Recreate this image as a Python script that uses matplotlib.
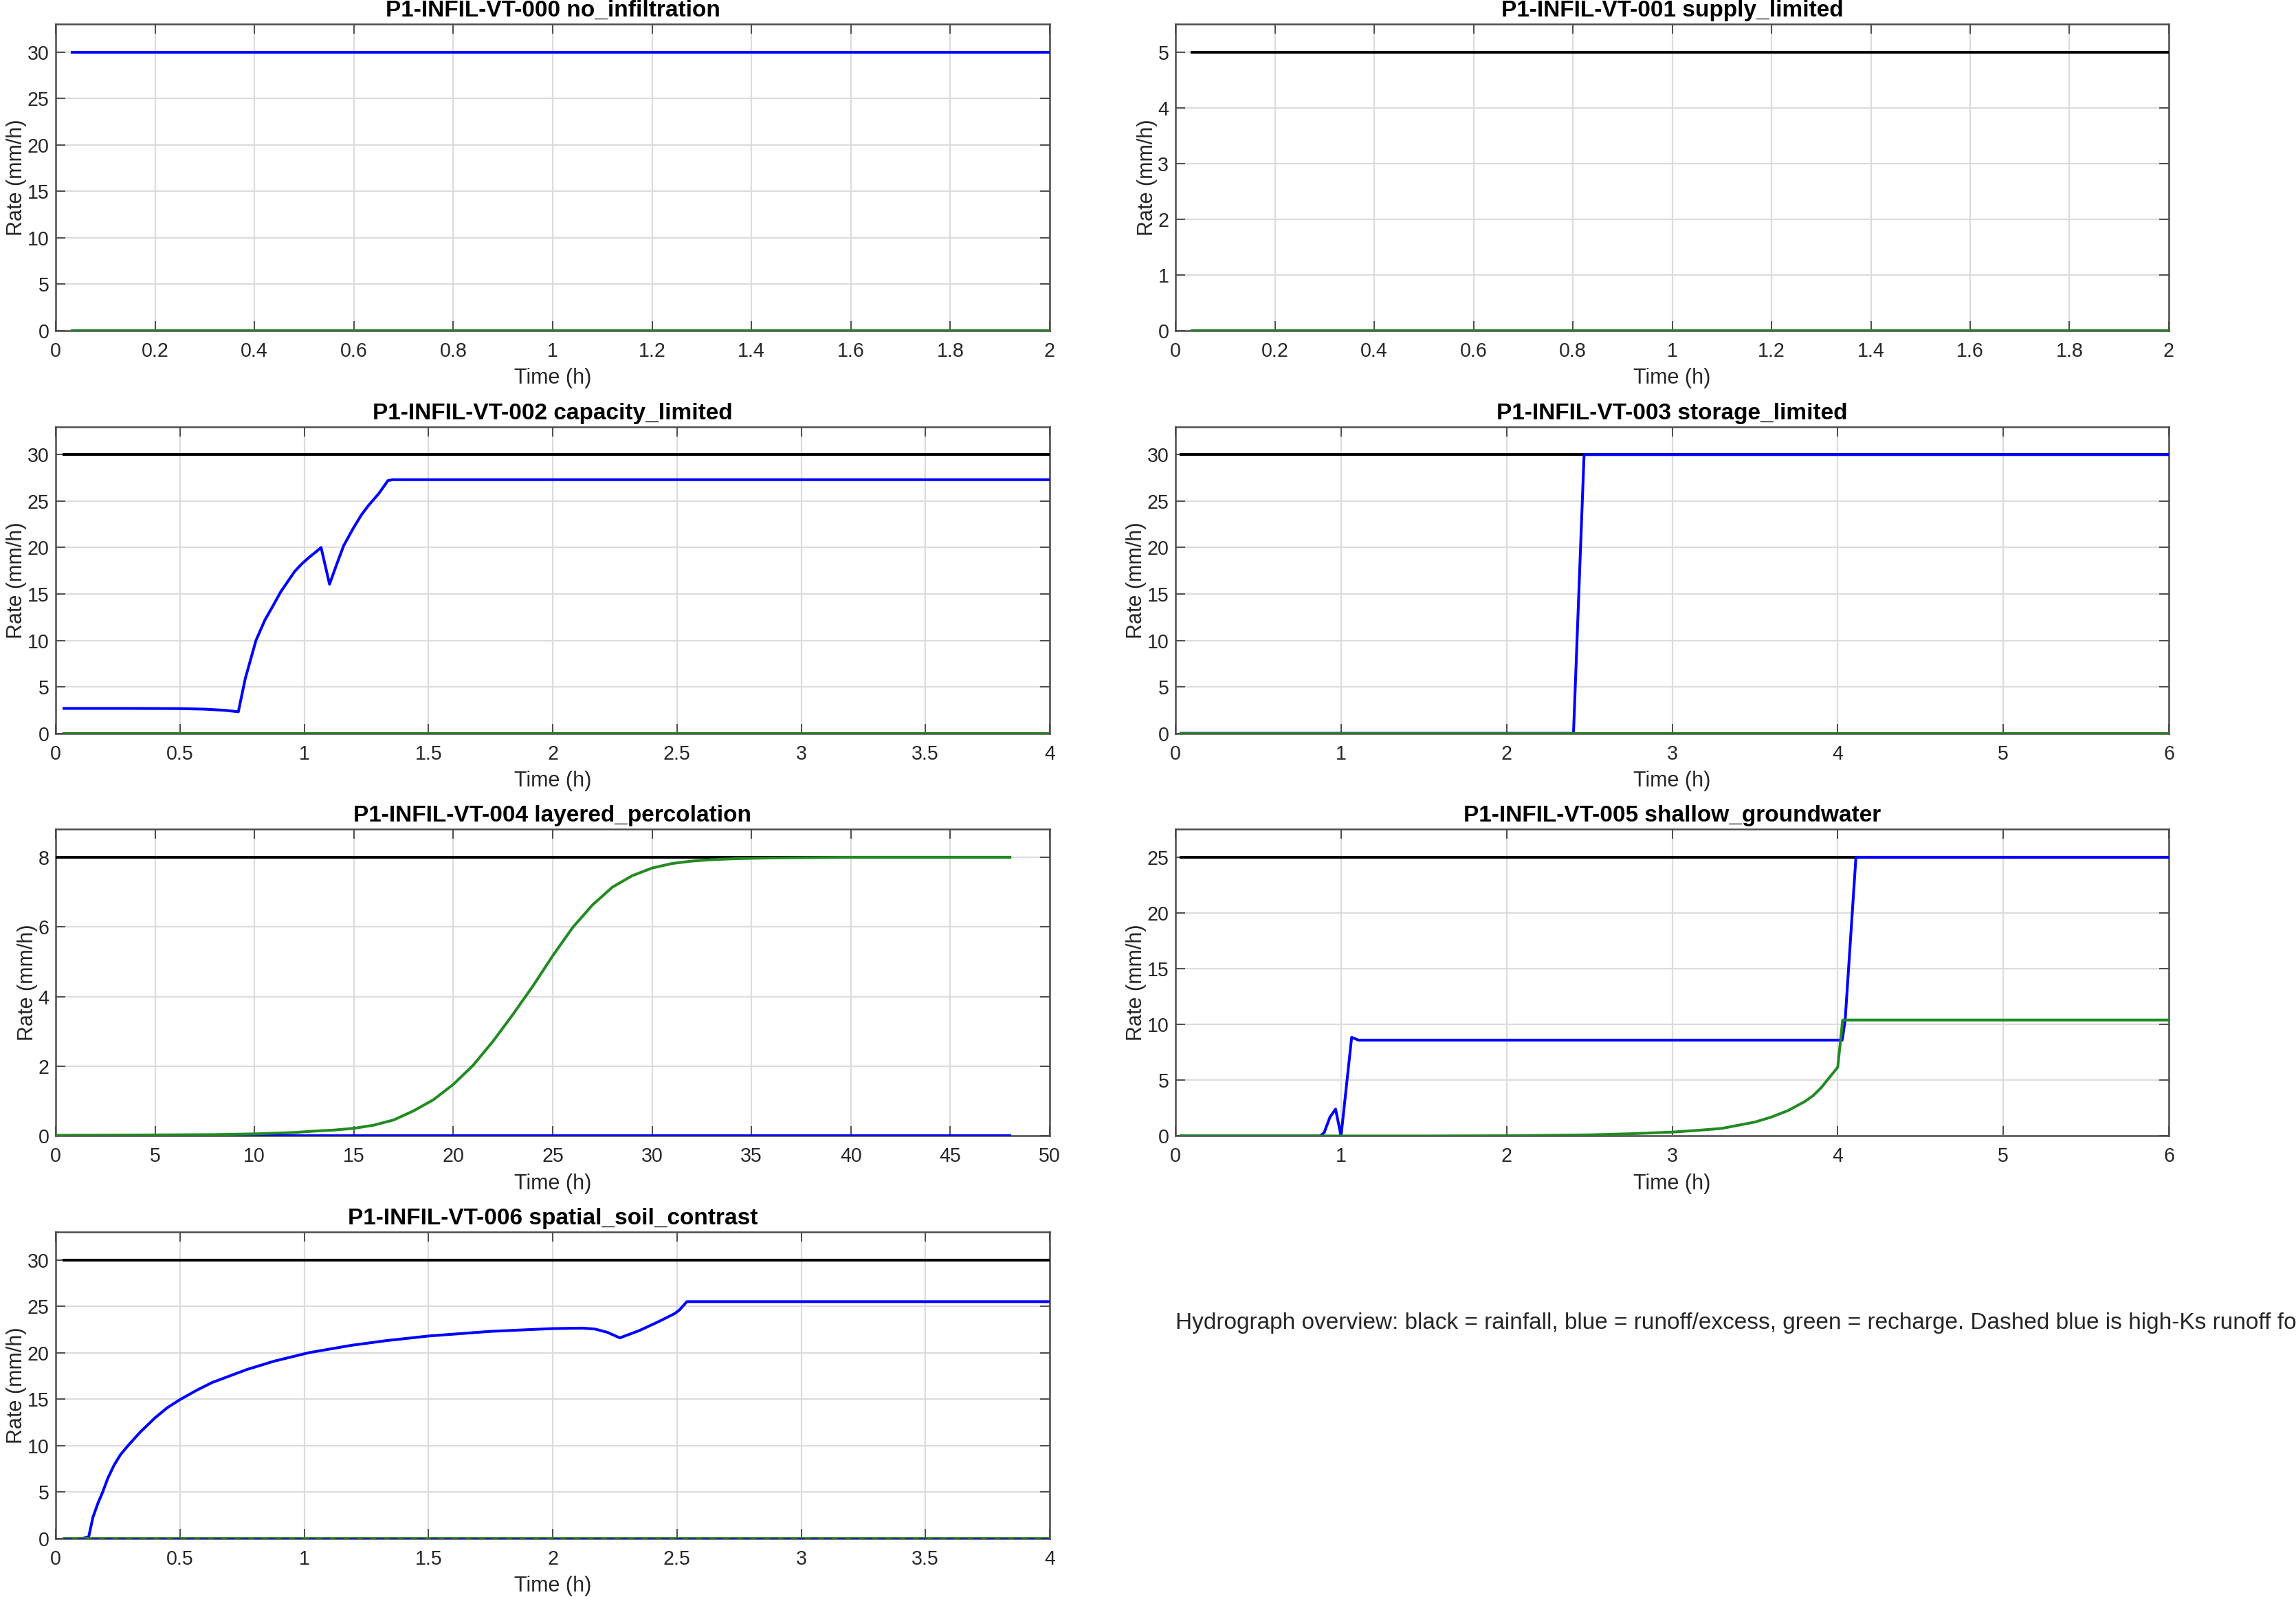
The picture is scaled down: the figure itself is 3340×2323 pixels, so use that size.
import matplotlib
matplotlib.use("Agg")
import matplotlib.pyplot as plt
from matplotlib.ticker import FuncFormatter
import numpy as np

plt.rcParams['font.family'] = ['Liberation Sans', 'DejaVu Sans']

# ---------------- data ----------------
titles = ["P1-INFIL-VT-000 no_infiltration",
          "P1-INFIL-VT-001 supply_limited",
          "P1-INFIL-VT-002 capacity_limited",
          "P1-INFIL-VT-003 storage_limited",
          "P1-INFIL-VT-004 layered_percolation",
          "P1-INFIL-VT-005 shallow_groundwater",
          "P1-INFIL-VT-006 spatial_soil_contrast"]

# 000 no_infiltration
t000 = [0.0333, 2.0]
rain000 = [30, 30]
runoff000 = [30, 30]
rech000 = [0, 0]

# 001 supply_limited
t001 = [0.0333, 2.0]
rain001 = [5, 5]
runoff001 = [0, 0]
rech001 = [0, 0]

# 002 capacity_limited
t002_rain = [0.0333, 4.0]
rain002 = [30, 30]
t002_runoff = [0.0333, 0.30, 0.50, 0.60, 0.68, 0.735, 0.763, 0.806, 0.842, 0.876,
               0.905, 0.933, 0.961, 0.989, 1.018, 1.046, 1.068, 1.102, 1.131,
               1.159, 1.196, 1.23, 1.258, 1.30, 1.337, 1.357, 4.0]
runoff002 = [2.68, 2.68, 2.66, 2.60, 2.48, 2.32, 5.9, 10.0, 12.2, 13.8,
             15.2, 16.3, 17.4, 18.2, 18.9, 19.5, 20.0, 16.05, 18.2,
             20.2, 22.0, 23.5, 24.5, 25.8, 27.2, 27.3, 27.3]
t002_rech = [0.0333, 4.0]
rech002 = [0, 0]

# 003 storage_limited
t003_rain = [0.0333, 6.0]
rain003 = [30, 30]
t003_runoff = [0.0333, 2.404, 2.468, 6.0]
runoff003 = [0, 0, 30, 30]
t003_rech = [0.0333, 6.0]
rech003 = [0, 0]

# 004 layered_percolation
t004_rain = [0.0, 48.0]
rain004 = [8, 8]
t004_runoff = [0.0, 48.0]
runoff004 = [0, 0]
t004_rech = [0, 5, 8, 10, 12, 13, 14, 15, 16, 17, 18, 19, 20, 21, 22, 23, 24, 25,
             26, 27, 28, 29, 30, 31, 32, 33, 34, 35, 36, 38, 40, 48]
rech004 = [0.02, 0.03, 0.04, 0.06, 0.10, 0.14, 0.17, 0.22, 0.31, 0.46, 0.72, 1.04,
           1.48, 2.03, 2.72, 3.49, 4.30, 5.17, 5.98, 6.63, 7.14, 7.47, 7.69, 7.82,
           7.89, 7.93, 7.955, 7.97, 7.98, 7.99, 8.0, 8.0]

# 005 shallow_groundwater
t005_rain = [0.0333, 6.0]
rain005 = [25, 25]
t005_runoff = [0.0333, 0.874, 0.898, 0.933, 0.967, 1.0, 1.064, 1.105, 4.027,
               4.045, 4.11, 6.0]
runoff005 = [0, 0, 0.3, 1.69, 2.41, 0, 8.85, 8.6, 8.6, 10.4, 25.0, 25.0]
t005_rech = [0.0333, 1.5, 2.0, 2.5, 2.75, 3.0, 3.15, 3.3, 3.5, 3.6, 3.7, 3.8,
             3.85, 3.9, 3.95, 4.0, 4.03, 6.0]
rech005 = [0, 0.0, 0.02, 0.10, 0.20, 0.35, 0.50, 0.68, 1.25, 1.70, 2.28, 3.08,
           3.60, 4.33, 5.25, 6.16, 10.4, 10.4]

# 006 spatial_soil_contrast
t006_rain = [0.0333, 4.0]
rain006 = [30, 30]
t006_runoff = [0.0333, 0.107, 0.133, 0.15, 0.17, 0.189, 0.21, 0.235, 0.26, 0.291,
               0.34, 0.40, 0.45, 0.503, 0.57, 0.63, 0.70, 0.77, 0.88, 1.018,
               1.19, 1.33, 1.5, 1.75, 2.0, 2.12, 2.17, 2.22, 2.27, 2.35, 2.43,
               2.49, 2.51, 2.54, 4.0]
runoff006 = [0, 0, 0.2, 2.3, 3.8, 5.0, 6.5, 7.9, 9.0, 10.0,
             11.45, 13.0, 14.1, 15.0, 16.0, 16.8, 17.5, 18.2, 19.1, 20.0,
             20.8, 21.3, 21.8, 22.3, 22.6, 22.65, 22.55, 22.2, 21.6, 22.4, 23.4,
             24.2, 24.6, 25.5, 25.5]
t006_rech = [0.0333, 4.0]
rech006 = [0, 0]
t006_highks = [0.0333, 4.0]
highks006 = [0, 0]

xlims = [2, 2, 4, 6, 50, 6, 4]
xsteps = [0.2, 0.2, 0.5, 1, 5, 1, 0.5]
ylims = [33, 5.5, 33, 33, 8.8, 27.5, 33]
ysteps = [5, 1, 5, 5, 2, 5, 5]

note = ("Hydrograph overview: black = rainfall, blue = runoff/excess, green = recharge. "
        "Dashed blue is high-Ks runoff for spatial_soil_contrast.")

panels = [
    [(t000, rain000), (t000, runoff000), (t000, rech000), None],
    [(t001, rain001), (t001, runoff001), (t001, rech001), None],
    [(t002_rain, rain002), (t002_runoff, runoff002), (t002_rech, rech002), None],
    [(t003_rain, rain003), (t003_runoff, runoff003), (t003_rech, rech003), None],
    [(t004_rain, rain004), (t004_runoff, runoff004), (t004_rech, rech004), None],
    [(t005_rain, rain005), (t005_runoff, runoff005), (t005_rech, rech005), None],
    [(t006_rain, rain006), (t006_runoff, runoff006), (t006_rech, rech006),
     (t006_highks, highks006)],
]

# ---------------- figure ----------------
W, H = 3340, 2323
DPI = 200
fig = plt.figure(figsize=(W / DPI, H / DPI), dpi=DPI)

col_x = [81, 1710]
col_w = [1527 - 81, 3155 - 1710]
row_top = [35, 620.7, 1206.4, 1792]
ax_h = 446

GREEN = '#228B22'
LW = 1.45
spine_c = '#4d4d4d'
text_c = '#262626'


def fmt(v, pos):
    s = ('%.4f' % v).rstrip('0').rstrip('.')
    return '0' if s in ('-0', '') else s


for i in range(7):
    r, c = divmod(i, 2)
    left = col_x[c] / W
    width = col_w[c] / W
    bottom = 1 - (row_top[r] + ax_h) / H
    ax = fig.add_axes([left, bottom, width, ax_h / H])
    rain, runoff, rech, hk = panels[i]
    ax.plot(rain[0], rain[1], color='black', lw=LW, zorder=3)
    ax.plot(runoff[0], runoff[1], color='blue', lw=LW, zorder=4)
    ax.plot(rech[0], rech[1], color=GREEN, lw=LW, zorder=5)
    if hk is not None:
        ax.plot(hk[0], hk[1], color='blue', lw=LW * 0.7, ls=(0, (4, 3)), zorder=6)
    ax.set_xlim(0, xlims[i])
    ax.set_ylim(0, ylims[i])
    ax.set_xticks(np.arange(0, xlims[i] + 1e-9, xsteps[i]))
    ax.set_yticks(np.arange(0, ylims[i] / 1.1 + 1e-9, ysteps[i]))
    ax.xaxis.set_major_formatter(FuncFormatter(fmt))
    ax.yaxis.set_major_formatter(FuncFormatter(fmt))
    ax.grid(True, color='#dcdcdc', lw=0.8, zorder=0)
    ax.set_axisbelow(True)
    ax.tick_params(direction='in', length=5, width=0.7, colors=spine_c,
                   labelcolor=text_c, labelsize=10.3, top=True, right=True, pad=3.5)
    ax.tick_params(axis='x', pad=5.7)
    for s in ax.spines.values():
        s.set_color(spine_c)
        s.set_linewidth(0.9)
    ax.set_title(titles[i], fontsize=12, fontweight='bold', color='black', pad=4)
    ax.set_xlabel('Time (h)', fontsize=11, color=text_c, labelpad=3.7)
    ax.set_ylabel('Rate (mm/h)', fontsize=11, color=text_c, labelpad=0)

fig.text(1710 / W, 1 - 1925 / H, note, fontsize=12, color=text_c,
         ha='left', va='center')

fig.savefig('out.png', dpi=DPI)
